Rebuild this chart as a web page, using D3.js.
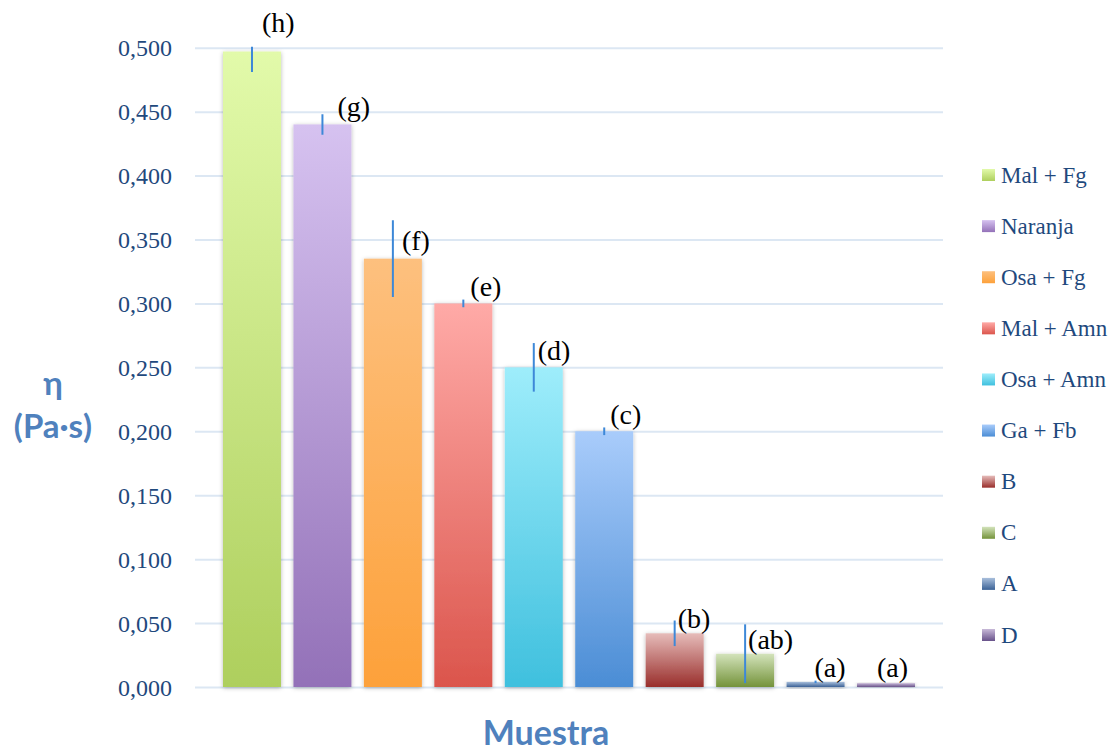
<!DOCTYPE html>
<html>
<head>
<meta charset="utf-8">
<script src="https://cdn.jsdelivr.net/npm/d3@7"></script>
<style>
  html, body { margin: 0; padding: 0; background: #ffffff; }
  svg { display: block; }
</style>
</head>
<body>
<svg id="chart" width="1115" height="751"></svg>
<script>
// Viscosity per sample with error and significance groups
const samples = ["Mal + Fg", "Naranja", "Osa + Fg", "Mal + Amn", "Osa + Amn", "Ga + Fb", "B", "C", "A", "D"];
const viscosity = [0.497, 0.440, 0.335, 0.300, 0.250, 0.200, 0.042, 0.026, 0.004, 0.003];
const errors = [0.016, 0.008, 0.030, 0.003, 0.019, 0.003, 0.010, 0.023, 0.001, 0.000];
const groups = ["(h)", "(g)", "(f)", "(e)", "(d)", "(c)", "(b)", "(ab)", "(a)", "(a)"];
const yTicks = [0, 0.05, 0.1, 0.15, 0.2, 0.25, 0.3, 0.35, 0.4, 0.45, 0.5];

// Gradient stops (top, bottom) per series
const topColors = ["#e2faaa", "#d6c2f0", "#fdc07e", "#ffaaa7", "#9eedfb", "#a9ccfb", "#e6bcba", "#d3e3bb", "#a9bfdc", "#c8b9d8"];
const bottomColors = ["#aecf5d", "#9371b8", "#fda13a", "#db554c", "#3fc0de", "#4b8dd5", "#992e2b", "#74933a", "#3b6296", "#68528a"];

const svg = d3.select("#chart");
const plot = { left: 195, right: 943, top: 47.7, bottom: 687 };
const serif = "'Liberation Serif', 'DejaVu Serif', serif";

const x = d3.scaleBand()
  .domain(samples)
  .range([plot.left, plot.right])
  .paddingInner(0.177)
  .paddingOuter(0.3975);

const y = d3.scaleLinear()
  .domain([0, 0.5])
  .range([plot.bottom, plot.top]);

const defs = svg.append("defs");
samples.forEach((s, i) => {
  const g = defs.append("linearGradient")
    .attr("id", "grad" + i)
    .attr("x1", 0).attr("y1", 0).attr("x2", 0).attr("y2", 1);
  g.append("stop").attr("offset", "0%").attr("stop-color", topColors[i]);
  g.append("stop").attr("offset", "100%").attr("stop-color", bottomColors[i]);
});
const shadow = defs.append("filter").attr("id", "barShadow")
  .attr("x", "-30%").attr("y", "-10%").attr("width", "160%").attr("height", "130%");
shadow.append("feDropShadow")
  .attr("dx", 0).attr("dy", 1).attr("stdDeviation", 2.2)
  .attr("flood-color", "#000").attr("flood-opacity", 0.28);
defs.append("clipPath").attr("id", "plotClip")
  .append("rect")
  .attr("x", plot.left - 20).attr("y", plot.top - 1)
  .attr("width", plot.right - plot.left + 40).attr("height", plot.bottom - plot.top + 10);

// Gridlines and value axis labels
const yAxis = d3.axisLeft(y)
  .tickValues(yTicks)
  .tickSize(-(plot.right - plot.left))
  .tickPadding(23)
  .tickFormat(d => d3.format(".3f")(d).replace(".", ","));

const axisG = svg.append("g")
  .attr("transform", `translate(${plot.left},0)`)
  .call(yAxis);
axisG.select(".domain").remove();
axisG.selectAll(".tick line")
  .attr("stroke", "#dce7f3")
  .attr("stroke-width", 2);
axisG.selectAll(".tick text")
  .attr("fill", "#1f497d")
  .attr("font-family", serif)
  .attr("font-size", 24)
  .attr("dy", "0.34em");

// Bars
svg.append("g").selectAll("rect")
  .data(samples)
  .join("rect")
  .attr("x", d => x(d))
  .attr("width", x.bandwidth())
  .attr("y", (d, i) => y(viscosity[i]))
  .attr("height", (d, i) => y(0) - y(viscosity[i]))
  .attr("fill", (d, i) => `url(#grad${i})`)
  .attr("filter", "url(#barShadow)");

// Error bars (no caps)
svg.append("g").attr("clip-path", "url(#plotClip)")
  .selectAll("line")
  .data(samples)
  .join("line")
  .attr("x1", d => x(d) + x.bandwidth() / 2)
  .attr("x2", d => x(d) + x.bandwidth() / 2)
  .attr("y1", (d, i) => y(viscosity[i] + errors[i]))
  .attr("y2", (d, i) => y(viscosity[i] - errors[i]))
  .attr("stroke", "#3d88d8")
  .attr("stroke-width", 2);

// Significance letters, placed beside the error bars
const labelShift = [
  { dx: 10, dy: -28 }, { dx: 15, dy: -17 }, { dx: 9, dy: -17 }, { dx: 7, dy: -16 },
  { dx: 4, dy: -16 }, { dx: 6, dy: -15.5 }, { dx: 3, dy: -14 }, { dx: 3, dy: -13.5 },
  { dx: -1, dy: -13.5 }, { dx: -9, dy: -14.5 }
];
svg.append("g").selectAll("text")
  .data(samples)
  .join("text")
  .attr("x", (d, i) => x(d) + x.bandwidth() / 2 + labelShift[i].dx)
  .attr("y", (d, i) => y(viscosity[i]) + labelShift[i].dy)
  .attr("dy", "0.3em")
  .attr("font-family", serif)
  .attr("font-size", 28)
  .attr("fill", "#000")
  .text((d, i) => groups[i]);

// Legend
const rowY = d3.scalePoint().domain(samples).range([175, 635]);
const items = svg.append("g").selectAll("g")
  .data(samples)
  .join("g")
  .attr("transform", d => `translate(982,${rowY(d)})`);
items.append("rect")
  .attr("x", 0).attr("y", -6)
  .attr("width", 13).attr("height", 12)
  .attr("fill", (d, i) => `url(#grad${i})`);
items.append("text")
  .attr("x", 19).attr("y", 0)
  .attr("dy", "0.33em")
  .attr("font-family", serif)
  .attr("font-size", 23)
  .attr("fill", "#1f497d")
  .text(d => d);

// Axis titles
const titleFont = "Lato, 'Open Sans', sans-serif";
const yTitle = svg.append("text")
  .attr("text-anchor", "middle")
  .attr("font-family", titleFont)
  .attr("font-weight", "bold")
  .attr("font-size", 33)
  .attr("fill", "#4f81bd");
yTitle.append("tspan").attr("x", 53).attr("y", 395).text("η");
yTitle.append("tspan").attr("x", 53).attr("y", 438).text("(Pa·s)");

svg.append("text")
  .attr("x", 546)
  .attr("y", 745)
  .attr("text-anchor", "middle")
  .attr("font-family", titleFont)
  .attr("font-weight", "bold")
  .attr("font-size", 34)
  .attr("fill", "#4f81bd")
  .text("Muestra");
</script>
</body>
</html>
